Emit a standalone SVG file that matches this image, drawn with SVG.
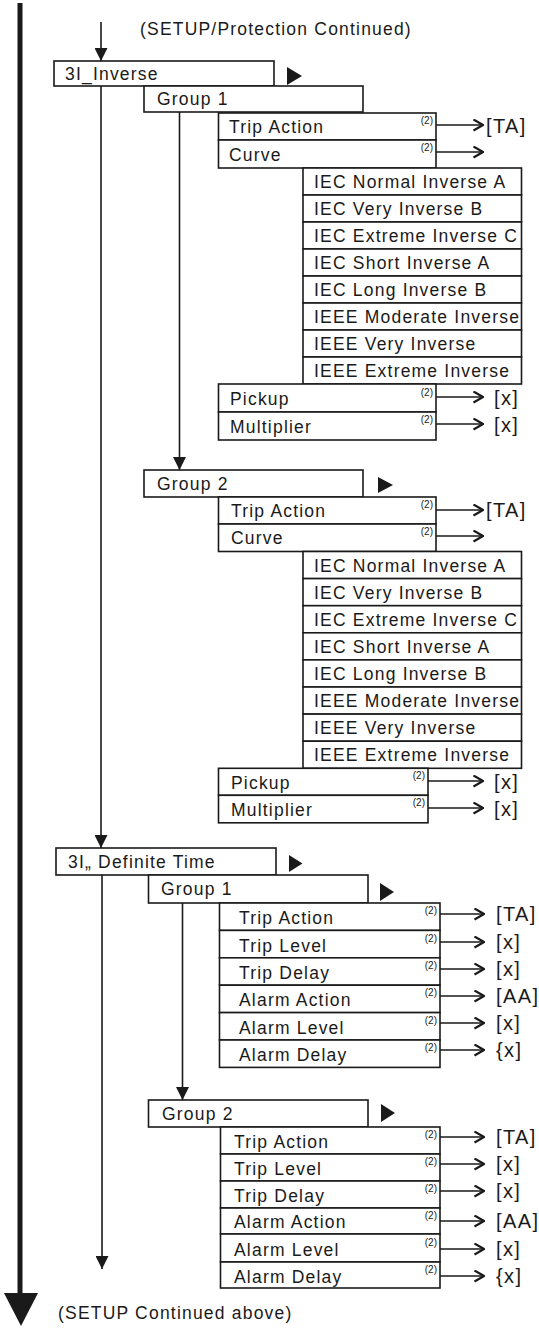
<svg xmlns="http://www.w3.org/2000/svg" width="539" height="1329" viewBox="0 0 539 1329">
<defs>
<style>
text { font-family: "Liberation Sans", Arial, Helvetica, sans-serif; fill: #1a1a1a; }
.t { font-size: 17.5px; letter-spacing: 1.2px; }
.s { font-size: 10px; }
.v { font-size: 20px; letter-spacing: 1.4px; }
.b { fill: #fff; stroke: #1a1a1a; stroke-width: 1.6; }
.c { stroke: #1a1a1a; stroke-width: 1.6; fill: none; }
.ca { marker-end: url(#chev); }
.da { marker-end: url(#tri); }
.pt { fill: #1a1a1a; }
</style>
<marker id="chev" viewBox="0 0 11 13" refX="10.5" refY="6.5" markerWidth="11" markerHeight="13" markerUnits="userSpaceOnUse" orient="auto">
<path d="M1,1 L10.5,6.5 L1,12" fill="none" stroke="#1a1a1a" stroke-width="2.2"/>
</marker>
<marker id="tri" viewBox="0 0 13 13" refX="13" refY="6.5" markerWidth="13" markerHeight="13" markerUnits="userSpaceOnUse" orient="auto">
<path d="M0,0 L13,6.5 L0,13 z" fill="#1a1a1a"/>
</marker>
</defs>
<rect width="539" height="1329" fill="#fff"/>

<g id="connectors">
<line x1="20" y1="3" x2="20" y2="1296" stroke="#1a1a1a" stroke-width="5"/>
<polygon class="pt" points="4,1293 38,1293 21,1326"/>
<line class="c da" x1="101" y1="22" x2="101" y2="61"/>
<line class="c da" x1="101" y1="86" x2="101" y2="848"/>
<line class="c da" x1="179.5" y1="112" x2="179.5" y2="470"/>
<line class="c da" x1="102" y1="875" x2="102" y2="1269"/>
<line class="c da" x1="182.5" y1="903" x2="182.5" y2="1100"/>

<line class="c ca" x1="436" y1="125" x2="483" y2="125"/>
<line class="c ca" x1="436" y1="152" x2="483" y2="152"/>
<line class="c ca" x1="436" y1="397" x2="483" y2="397"/>
<line class="c ca" x1="436" y1="424" x2="483" y2="424"/>
<line class="c ca" x1="436" y1="510" x2="483" y2="510"/>
<line class="c ca" x1="436" y1="536" x2="483" y2="536"/>
<line class="c ca" x1="428" y1="781" x2="483" y2="781"/>
<line class="c ca" x1="428" y1="808" x2="483" y2="808"/>
<line class="c ca" x1="440" y1="914" x2="484" y2="914"/>
<line class="c ca" x1="440" y1="942" x2="484" y2="942"/>
<line class="c ca" x1="440" y1="969" x2="484" y2="969"/>
<line class="c ca" x1="440" y1="996" x2="484" y2="996"/>
<line class="c ca" x1="440" y1="1023" x2="484" y2="1023"/>
<line class="c ca" x1="440" y1="1050" x2="484" y2="1050"/>
<line class="c ca" x1="440" y1="1137" x2="484" y2="1137"/>
<line class="c ca" x1="440" y1="1164" x2="484" y2="1164"/>
<line class="c ca" x1="440" y1="1191" x2="484" y2="1191"/>
<line class="c ca" x1="440" y1="1221" x2="484" y2="1221"/>
<line class="c ca" x1="440" y1="1249" x2="484" y2="1249"/>
<line class="c ca" x1="440" y1="1276" x2="484" y2="1276"/>

<text class="v" x="486" y="133">[TA]</text>
<text class="v" x="494" y="405">[x]</text>
<text class="v" x="494" y="432">[x]</text>
<text class="v" x="486" y="517">[TA]</text>
<text class="v" x="494" y="789">[x]</text>
<text class="v" x="494" y="816">[x]</text>
<text class="v" x="496" y="921">[TA]</text>
<text class="v" x="496" y="949">[x]</text>
<text class="v" x="496" y="976">[x]</text>
<text class="v" x="496" y="1003">[AA]</text>
<text class="v" x="496" y="1030">[x]</text>
<text class="v" x="496" y="1057">{x]</text>
<text class="v" x="496" y="1144">[TA]</text>
<text class="v" x="496" y="1171">[x]</text>
<text class="v" x="496" y="1198">[x]</text>
<text class="v" x="496" y="1228">[AA]</text>
<text class="v" x="496" y="1256">[x]</text>
<text class="v" x="496" y="1283">{x]</text>
</g>

<g id="title-top"><text class="t" x="140" y="35">(SETUP/Protection Continued)</text></g>
<g id="title-bottom"><text class="t" x="58" y="1319">(SETUP Continued above)</text></g>

<g id="inv">
<rect class="b" x="54" y="61" width="220" height="25"/>
<text class="t" x="65" y="80">3I_Inverse</text>
<polygon class="pt" points="287,67 287,85 302,76"/>
</g>
<g id="inv-g1">
<rect class="b" x="144" y="86" width="219" height="26"/>
<text class="t" x="157" y="105">Group 1</text>
</g>
<g id="inv-g1-trip">
<rect class="b" x="218.5" y="113" width="217.5" height="27"/>
<text class="t" x="229" y="133">Trip Action</text>
<text class="s" x="433" y="124" text-anchor="end">(2)</text>
</g>
<g id="inv-g1-curve">
<rect class="b" x="218.5" y="140" width="217.5" height="28"/>
<text class="t" x="229" y="161">Curve</text>
<text class="s" x="433" y="151" text-anchor="end">(2)</text>
</g>
<g id="inv-g1-list">
<rect class="b" x="303" y="168" width="218.5" height="27"/>
<text class="t" x="314" y="188">IEC Normal Inverse A</text>
<rect class="b" x="303" y="195" width="218.5" height="27"/>
<text class="t" x="314" y="215">IEC Very Inverse B</text>
<rect class="b" x="303" y="222" width="218.5" height="27"/>
<text class="t" x="314" y="242">IEC Extreme Inverse C</text>
<rect class="b" x="303" y="249" width="218.5" height="27"/>
<text class="t" x="314" y="269">IEC Short Inverse A</text>
<rect class="b" x="303" y="276" width="218.5" height="27"/>
<text class="t" x="314" y="296">IEC Long Inverse B</text>
<rect class="b" x="303" y="303" width="218.5" height="27"/>
<text class="t" x="314" y="323">IEEE Moderate Inverse</text>
<rect class="b" x="303" y="330" width="218.5" height="27"/>
<text class="t" x="314" y="350">IEEE Very Inverse</text>
<rect class="b" x="303" y="357" width="218.5" height="27"/>
<text class="t" x="314" y="377">IEEE Extreme Inverse</text>
</g>
<g id="inv-g1-pickup">
<rect class="b" x="218.5" y="384" width="217.5" height="28"/>
<text class="t" x="230" y="405">Pickup</text>
<text class="s" x="433" y="396" text-anchor="end">(2)</text>
</g>
<g id="inv-g1-mult">
<rect class="b" x="218.5" y="412" width="217.5" height="28"/>
<text class="t" x="230" y="433">Multiplier</text>
<text class="s" x="433" y="423" text-anchor="end">(2)</text>
</g>

<g id="inv-g2">
<rect class="b" x="144" y="470" width="219" height="27"/>
<text class="t" x="157" y="490">Group 2</text>
<polygon class="pt" points="378,477 378,493 393,485"/>
</g>
<g id="inv-g2-trip">
<rect class="b" x="218.5" y="497" width="217.5" height="27"/>
<text class="t" x="231" y="517">Trip Action</text>
<text class="s" x="433" y="508" text-anchor="end">(2)</text>
</g>
<g id="inv-g2-curve">
<rect class="b" x="218.5" y="524" width="217.5" height="27.5"/>
<text class="t" x="231" y="544">Curve</text>
<text class="s" x="433" y="535" text-anchor="end">(2)</text>
</g>
<g id="inv-g2-list">
<rect class="b" x="303" y="551.5" width="218.5" height="27.1"/>
<text class="t" x="314" y="571.5">IEC Normal Inverse A</text>
<rect class="b" x="303" y="578.6" width="218.5" height="27.1"/>
<text class="t" x="314" y="598.6">IEC Very Inverse B</text>
<rect class="b" x="303" y="605.7" width="218.5" height="27.1"/>
<text class="t" x="314" y="625.7">IEC Extreme Inverse C</text>
<rect class="b" x="303" y="632.8" width="218.5" height="27.1"/>
<text class="t" x="314" y="652.8">IEC Short Inverse A</text>
<rect class="b" x="303" y="659.9" width="218.5" height="27.1"/>
<text class="t" x="314" y="679.9">IEC Long Inverse B</text>
<rect class="b" x="303" y="687" width="218.5" height="27.1"/>
<text class="t" x="314" y="707">IEEE Moderate Inverse</text>
<rect class="b" x="303" y="714.1" width="218.5" height="27.1"/>
<text class="t" x="314" y="734.1">IEEE Very Inverse</text>
<rect class="b" x="303" y="741.2" width="218.5" height="27.1"/>
<text class="t" x="314" y="761.2">IEEE Extreme Inverse</text>
</g>
<g id="inv-g2-pickup">
<rect class="b" x="218.5" y="768.3" width="209.5" height="27"/>
<text class="t" x="231" y="789">Pickup</text>
<text class="s" x="425" y="779" text-anchor="end">(2)</text>
</g>
<g id="inv-g2-mult">
<rect class="b" x="218.5" y="795.3" width="209.5" height="27.5"/>
<text class="t" x="231" y="816">Multiplier</text>
<text class="s" x="425" y="806" text-anchor="end">(2)</text>
</g>

<g id="dt">
<rect class="b" x="56" y="848" width="220" height="27"/>
<text class="t" x="68" y="868">3I„ Definite Time</text>
<polygon class="pt" points="289,855 289,872 302.5,863.5"/>
</g>
<g id="dt-g1">
<rect class="b" x="148.5" y="875" width="219.5" height="28"/>
<text class="t" x="161" y="895">Group 1</text>
<polygon class="pt" points="380,883 380,901 394,892"/>
</g>
<g id="dt-g1-items">
<rect class="b" x="219.5" y="903" width="220.5" height="27.4"/>
<text class="t" x="239" y="924">Trip Action</text>
<text class="s" x="437" y="914" text-anchor="end">(2)</text>
<rect class="b" x="219.5" y="930.4" width="220.5" height="27.4"/>
<text class="t" x="239" y="951.5">Trip Level</text>
<text class="s" x="437" y="941.5" text-anchor="end">(2)</text>
<rect class="b" x="219.5" y="957.8" width="220.5" height="27.4"/>
<text class="t" x="239" y="979">Trip Delay</text>
<text class="s" x="437" y="969" text-anchor="end">(2)</text>
<rect class="b" x="219.5" y="985.2" width="220.5" height="27.4"/>
<text class="t" x="239" y="1006">Alarm Action</text>
<text class="s" x="437" y="996" text-anchor="end">(2)</text>
<rect class="b" x="219.5" y="1012.6" width="220.5" height="27.4"/>
<text class="t" x="239" y="1033.5">Alarm Level</text>
<text class="s" x="437" y="1023.5" text-anchor="end">(2)</text>
<rect class="b" x="219.5" y="1040" width="220.5" height="27.4"/>
<text class="t" x="239" y="1061">Alarm Delay</text>
<text class="s" x="437" y="1051" text-anchor="end">(2)</text>
</g>
<g id="dt-g2">
<rect class="b" x="148.5" y="1100" width="219.5" height="27"/>
<text class="t" x="162" y="1120">Group 2</text>
<polygon class="pt" points="381,1104 381,1122 395,1113"/>
</g>
<g id="dt-g2-items">
<rect class="b" x="220.5" y="1127" width="219.5" height="27"/>
<text class="t" x="234" y="1148">Trip Action</text>
<text class="s" x="437" y="1138" text-anchor="end">(2)</text>
<rect class="b" x="220.5" y="1154" width="219.5" height="27"/>
<text class="t" x="234" y="1175">Trip Level</text>
<text class="s" x="437" y="1165" text-anchor="end">(2)</text>
<rect class="b" x="220.5" y="1181" width="219.5" height="27"/>
<text class="t" x="234" y="1202">Trip Delay</text>
<text class="s" x="437" y="1192" text-anchor="end">(2)</text>
<rect class="b" x="220.5" y="1208" width="219.5" height="26"/>
<text class="t" x="234" y="1228">Alarm Action</text>
<text class="s" x="437" y="1219" text-anchor="end">(2)</text>
<rect class="b" x="220.5" y="1234" width="219.5" height="28"/>
<text class="t" x="234" y="1256">Alarm Level</text>
<text class="s" x="437" y="1246" text-anchor="end">(2)</text>
<rect class="b" x="220.5" y="1262" width="219.5" height="26"/>
<text class="t" x="234" y="1283">Alarm Delay</text>
<text class="s" x="437" y="1273" text-anchor="end">(2)</text>
</g>
</svg>
